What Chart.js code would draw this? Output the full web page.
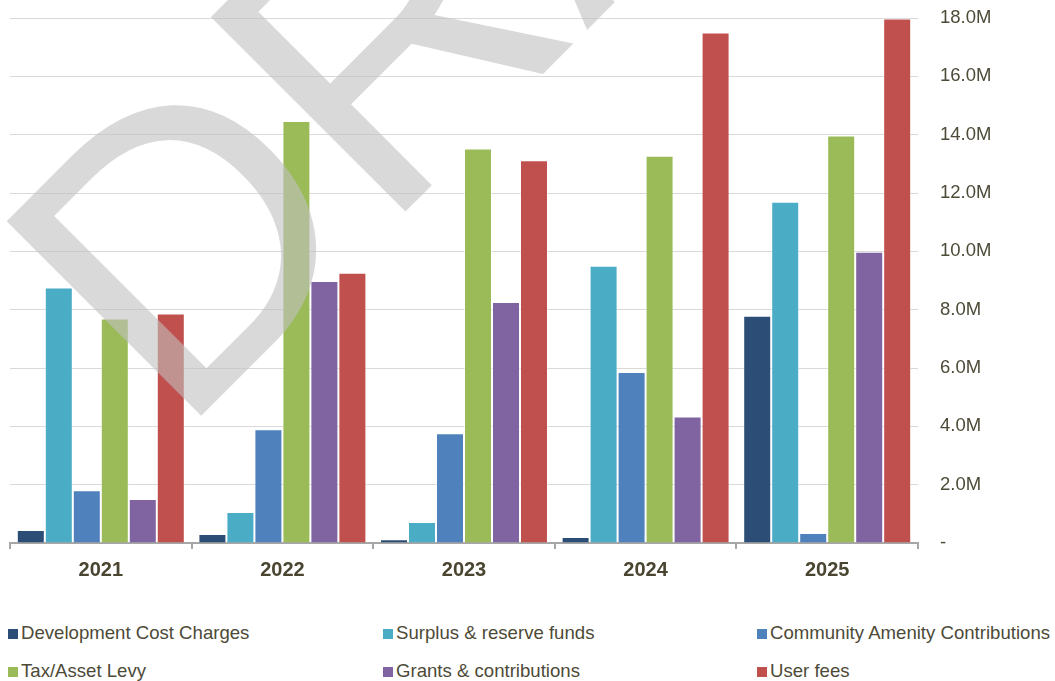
<!DOCTYPE html>
<html>
<head>
<meta charset="utf-8">
<script src="https://cdn.jsdelivr.net/npm/chart.js@4/dist/chart.umd.min.js"></script>
<style>
  body { margin: 0; background: #fff; font-family: "Liberation Sans", Arial, sans-serif; }
  #wrap { position: relative; width: 1055px; height: 681px; }
  #grafica { position: absolute; left: 0; top: 0; }
  .item { position: absolute; font-size: 18.6px; color: #4d4a37; white-space: nowrap; line-height: 20px; }
  .item i { display: inline-block; width: 10px; height: 10px; margin-right: 3px; vertical-align: 0px; }
</style>
</head>
<body>
<div id="wrap">
  <canvas id="grafica" width="1055" height="600"></canvas>
  <div id="leyenda"></div>
</div>
<script>
// años y series (millones)
const anios = ["2021", "2022", "2023", "2024", "2025"];
const series = ["Development Cost Charges", "Surplus & reserve funds", "Community Amenity Contributions",
                "Tax/Asset Levy", "Grants & contributions", "User fees"];
const dcc      = [0.45, 0.31, 0.13, 0.21, 7.79];
const surplus  = [8.76, 1.06, 0.72, 9.51, 11.70];
const cac      = [1.81, 3.90, 3.76, 5.86, 0.34];
const tax      = [7.70, 14.47, 13.53, 13.28, 13.97];
const grants   = [1.51, 8.98, 8.26, 4.34, 9.99];
const userFees = [7.87, 9.27, 13.12, 17.50, 17.98];
const colores  = ["#2c4d75", "#4bacc6", "#4f81bd", "#9bbb59", "#8064a2", "#c0504d"];
const ejeMax = 18;
const ejePaso = 2;

const valores = [dcc, surplus, cac, tax, grants, userFees];
const textoColor = "#4d4a37";

// marca de agua "DRAFT"
const marcaAgua = {
  id: "marcaAgua",
  afterDraw(chart) {
    const ctx = chart.ctx;
    ctx.save();
    ctx.translate(178, 439);
    ctx.rotate(-Math.PI / 4);
    ctx.font = '400px "Liberation Sans", Arial, sans-serif';
    ctx.fillStyle = "rgba(192,192,192,0.6)";
    ctx.textBaseline = "alphabetic";
    ctx.fillText("DRAFT", 0, 0);
    ctx.restore();
  }
};

const ctx = document.getElementById("grafica").getContext("2d");
const myChart = new Chart(ctx, {
  type: "bar",
  data: {
    labels: anios,
    datasets: series.map((nombre, i) => ({
      label: nombre,
      data: valores[i].map(v => v * 1e6),
      backgroundColor: colores[i],
      borderColor: "rgba(255,255,255,0.45)",
      borderWidth: 1,
      categoryPercentage: 0.925,
      barPercentage: 1.0
    }))
  },
  options: {
    responsive: false,
    animation: false,
    layout: { padding: { left: 10, top: 18, right: 0, bottom: 0 } },
    plugins: {
      legend: { display: false },
      tooltip: { enabled: false }
    },
    scales: {
      x: {
        grid: {
          offset: true,
          drawOnChartArea: false,
          drawTicks: true,
          tickLength: 6,
          color: "#a6a6a6",
          lineWidth: 2
        },
        border: { display: true, color: "#a6a6a6", width: 2 },
        ticks: {
          color: "#4a4530",
          font: { family: '"Liberation Sans", Arial, sans-serif', size: 20, weight: "bold" },
          padding: 9
        },
        afterFit(scale) { scale.height = 57; }
      },
      y: {
        position: "right",
        min: 0,
        max: ejeMax * 1e6,
        grid: { color: "#d9d9d9", lineWidth: 1, drawTicks: true, tickLength: 20, tickColor: "rgba(0,0,0,0)" },
        border: { display: false },
        ticks: {
          stepSize: ejePaso * 1e6,
          color: textoColor,
          padding: 2,
          font: { family: '"Liberation Sans", Arial, sans-serif', size: 18.5 },
          callback: v => v === 0 ? "-" : (v / 1e6).toFixed(1) + "M"
        },
        afterFit(scale) { scale.width = 137; }
      }
    }
  },
  plugins: [marcaAgua]
});

// leyenda en tres columnas
const leyenda = document.getElementById("leyenda");
const columnas = [8, 383, 757];
const filas = [623, 661];
series.forEach((nombre, i) => {
  const div = document.createElement("div");
  div.className = "item";
  div.style.left = columnas[i % 3] + "px";
  div.style.top = filas[Math.floor(i / 3)] + "px";
  div.innerHTML = `<i style="background:${colores[i]}"></i>${nombre.replace("&", "&amp;")}`;
  leyenda.appendChild(div);
});
</script>
</body>
</html>
